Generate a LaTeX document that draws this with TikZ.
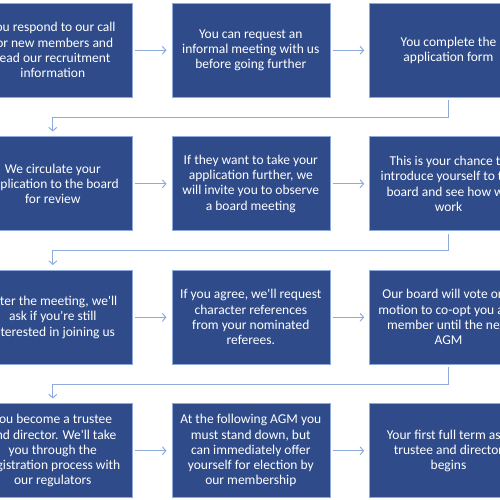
\documentclass[tikz,border=0pt]{standalone}
\usepackage{fontspec}
\setmainfont{Carlito}
\usetikzlibrary{arrows.meta,calc}
\definecolor{boxfill}{HTML}{2F4B8A}
\definecolor{boxedge}{HTML}{8EA9DB}
\definecolor{arrowc}{HTML}{8EAADB}
\newcommand{\q}{\textquotesingle}
\tikzset{
  stepbox/.style={rectangle, draw=boxedge, line width=0.6pt, fill=boxfill,
    minimum width=158pt, minimum height=94pt, inner sep=0pt, text=white,
    align=center, font=\fontsize{13.5}{15.3}\selectfont},
  conn/.style={draw=arrowc, line width=1pt,
    -{Straight Barb[length=3.5pt,width=8pt,line width=1pt]}, shorten <=2.5pt, shorten >=5pt}
}
\begin{document}
\begin{tikzpicture}[x=1pt,y=1pt]
\useasboundingbox (0,0) rectangle (500,500);
\clip (0,0) rectangle (500,500);
% row 1
\node[stepbox] (a1) at (52.8,449.7) {You respond to our call\\for new members and\\read our recruitment\\information};
\node[stepbox] (a2) at (250.8,449.7) {You can request an\\informal meeting with us\\before going further};
\node[stepbox] (a3) at (448.5,449.7) {You complete the\\application form};
% row 2
\node[stepbox] (b1) at (52.8,316.2) {We circulate your\\application to the board\\for review};
\node[stepbox] (b2) at (250.8,316.2) {If they want to take your\\application further, we\\will invite you to observe\\a board meeting};
\node[stepbox] (b3) at (448.5,316.2) {This is your chance to\\introduce yourself to the\\board and see how we\\work};
% row 3
\node[stepbox] (c1) at (52.8,182.7) {After the meeting, we\q ll\\ask if you\q re still\\interested in joining us};
\node[stepbox] (c2) at (250.8,182.7) {If you agree, we\q ll request\\character references\\from your nominated\\referees.};
\node[stepbox] (c3) at (448.5,182.7) {Our board will vote on a\\motion to co-opt you as a\\member until the next\\AGM};
% row 4
\node[stepbox] (d1) at (52.8,49.2) {You become a trustee\\and director. We\q ll take\\you through the\\registration process with\\our regulators};
\node[stepbox] (d2) at (250.8,49.2) {At the following AGM you\\must stand down, but\\can immediately offer\\yourself for election by\\our membership};
\node[stepbox] (d3) at (448.5,49.2) {Your first full term as a\\trustee and director\\begins};
% horizontal arrows
\foreach \r in {a,b,c,d}{
  \draw[conn] (\r1.east) -- (\r2.west);
  \draw[conn] (\r2.east) -- (\r3.west);
}
% row-to-row connectors
\foreach \u/\l in {a/b,b/c,c/d}{
  \draw[conn] (\u3.south) |- ($(\u3.south)!0.5!(\l1.north)$) -| (\l1.north);
}
\end{tikzpicture}
\end{document}
